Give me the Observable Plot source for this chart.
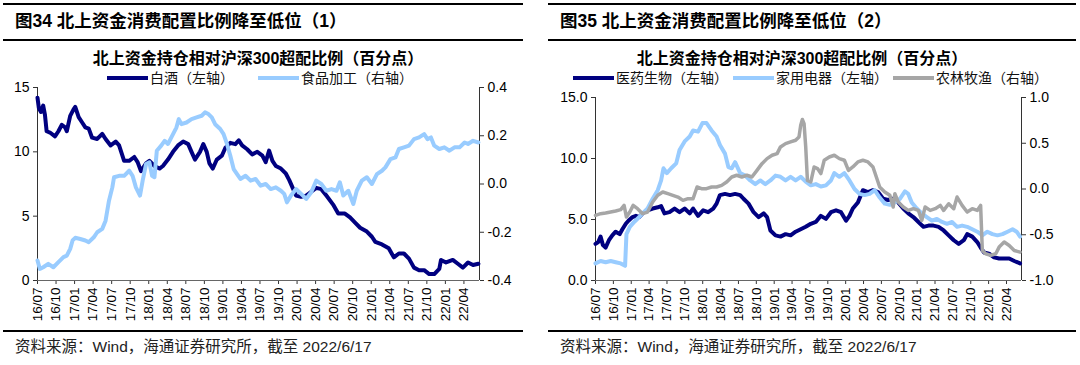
<!DOCTYPE html>
<html><head><meta charset="utf-8">
<script src="https://cdn.jsdelivr.net/npm/d3@7"></script>
<script src="https://cdn.jsdelivr.net/npm/@observablehq/plot@0.6"></script>
<style>
body{margin:0;background:#fff;}
#root{position:relative;width:1080px;height:365px;overflow:hidden;font-family:"Liberation Sans","Noto Sans CJK SC",sans-serif;color:#000;background:#fff;}
.rule{position:absolute;height:2px;background:#000;}
.title{position:absolute;font-weight:bold;font-size:17.5px;line-height:20px;white-space:nowrap;}
.ctitle{position:absolute;font-weight:bold;font-size:16px;line-height:18px;white-space:nowrap;transform:translateX(-50%);}
.lg{position:absolute;display:flex;align-items:center;font-size:14px;line-height:16px;white-space:nowrap;color:#111;}
.sw{display:inline-block;width:41px;height:4px;margin-right:2px;}
.footer{position:absolute;font-size:15.5px;line-height:17px;white-space:nowrap;color:#222;}
.chart{position:absolute;top:80px;}
.chart svg{overflow:visible;}
</style>
</head><body>
<div id="root"></div>
<script>
// ---------- data (decimal year, value) ----------
const xTickLabels = ["16/07","16/10","17/01","17/04","17/07","17/10","18/01","18/04","18/07","18/10","19/01","19/04","19/07","19/10","20/01","20/04","20/07","20/10","21/01","21/04","21/07","21/10","22/01","22/04"];

// 图34: 白酒 (left axis)
const baijiu = [[2016.500,14.2],[2016.518,13.4],[2016.545,13.1],[2016.577,13.6],[2016.600,12.9],[2016.623,11.6],[2016.668,11.5],[2016.736,11.2],[2016.782,11.6],[2016.827,12.1],[2016.873,11.9],[2016.895,11.6],[2016.941,12.8],[2016.986,13.3],[2017.009,13.5],[2017.055,12.7],[2017.100,12.3],[2017.145,11.9],[2017.191,11.8],[2017.236,11.1],[2017.305,11.0],[2017.373,11.4],[2017.418,11.0],[2017.486,10.5],[2017.555,10.8],[2017.600,10.5],[2017.668,9.3],[2017.736,9.3],[2017.805,9.6],[2017.850,9.2],[2017.895,8.5],[2017.964,9.1],[2018.009,9.3],[2018.077,8.9],[2018.145,8.7],[2018.191,8.9],[2018.259,9.4],[2018.327,10.0],[2018.395,10.5],[2018.464,10.8],[2018.532,10.6],[2018.577,10.0],[2018.623,9.4],[2018.691,10.0],[2018.736,10.6],[2018.782,10.0],[2018.818,9.1],[2018.864,8.7],[2018.918,9.4],[2018.986,9.7],[2019.032,10.3],[2019.100,10.7],[2019.168,10.6],[2019.214,10.9],[2019.259,10.5],[2019.327,10.2],[2019.395,9.8],[2019.464,10.0],[2019.532,9.7],[2019.577,9.2],[2019.623,10.1],[2019.668,9.3],[2019.714,8.9],[2019.782,8.7],[2019.850,8.3],[2019.895,7.8],[2019.941,7.2],[2019.986,6.6],[2020.055,6.5],[2020.123,6.6],[2020.191,6.9],[2020.259,7.2],[2020.327,7.1],[2020.395,6.6],[2020.486,5.9],[2020.555,5.2],[2020.645,5.2],[2020.714,4.9],[2020.782,4.5],[2020.850,4.1],[2020.941,3.8],[2021.009,3.4],[2021.055,3.0],[2021.145,2.8],[2021.236,2.5],[2021.305,1.8],[2021.373,2.1],[2021.441,2.1],[2021.509,1.7],[2021.577,1.0],[2021.645,0.8],[2021.714,0.8],[2021.782,0.5],[2021.850,0.5],[2021.918,0.9],[2021.941,1.6],[2022.009,1.4],[2022.100,1.6],[2022.168,1.3],[2022.236,1.0],[2022.305,1.4],[2022.373,1.2],[2022.445,1.3]];

// 图34: 食品加工 (right axis)
const shipin = [[2016.500,-0.317],[2016.532,-0.352],[2016.577,-0.345],[2016.645,-0.331],[2016.714,-0.345],[2016.782,-0.324],[2016.850,-0.303],[2016.895,-0.297],[2016.941,-0.269],[2016.973,-0.234],[2017.009,-0.223],[2017.077,-0.228],[2017.145,-0.234],[2017.191,-0.241],[2017.259,-0.221],[2017.305,-0.200],[2017.373,-0.186],[2017.418,-0.152],[2017.464,-0.069],[2017.509,-0.014],[2017.532,0.028],[2017.600,0.034],[2017.668,0.034],[2017.736,0.055],[2017.782,0.034],[2017.827,-0.014],[2017.882,-0.048],[2017.918,0.014],[2017.964,0.083],[2018.009,0.090],[2018.045,0.034],[2018.077,0.028],[2018.109,0.138],[2018.168,0.159],[2018.214,0.179],[2018.259,0.166],[2018.305,0.193],[2018.373,0.234],[2018.405,0.269],[2018.441,0.248],[2018.509,0.255],[2018.577,0.269],[2018.645,0.276],[2018.714,0.283],[2018.759,0.297],[2018.805,0.290],[2018.850,0.276],[2018.895,0.248],[2018.964,0.228],[2019.009,0.207],[2019.055,0.166],[2019.100,0.117],[2019.145,0.062],[2019.191,0.041],[2019.236,0.021],[2019.305,0.034],[2019.373,0.014],[2019.441,0.021],[2019.509,-0.007],[2019.577,0.000],[2019.645,-0.021],[2019.714,-0.014],[2019.782,-0.028],[2019.827,-0.041],[2019.864,-0.076],[2019.918,-0.048],[2019.986,-0.021],[2020.055,-0.041],[2020.123,-0.062],[2020.191,-0.034],[2020.259,0.014],[2020.327,0.000],[2020.395,-0.028],[2020.464,-0.021],[2020.532,-0.028],[2020.577,0.007],[2020.623,-0.048],[2020.691,-0.028],[2020.759,-0.083],[2020.805,-0.028],[2020.873,0.014],[2020.941,0.028],[2021.009,0.000],[2021.077,0.041],[2021.145,0.055],[2021.191,0.069],[2021.259,0.103],[2021.327,0.110],[2021.373,0.145],[2021.441,0.152],[2021.509,0.159],[2021.577,0.186],[2021.645,0.193],[2021.714,0.207],[2021.759,0.186],[2021.805,0.193],[2021.850,0.159],[2021.918,0.145],[2021.986,0.152],[2022.055,0.138],[2022.123,0.152],[2022.191,0.152],[2022.259,0.172],[2022.305,0.166],[2022.373,0.179],[2022.445,0.172]];

// 图35: 医药生物 (left axis)
const yiyao = [[2016.500,3.0],[2016.538,3.15],[2016.571,3.6],[2016.604,2.9],[2016.641,2.7],[2016.688,3.3],[2016.735,3.7],[2016.782,4.0],[2016.839,3.8],[2016.876,4.2],[2016.924,4.65],[2016.961,4.9],[2017.018,5.2],[2017.065,5.3],[2017.112,5.2],[2017.159,5.5],[2017.229,5.75],[2017.300,5.9],[2017.371,6.0],[2017.418,6.1],[2017.465,5.5],[2017.535,5.6],[2017.606,5.9],[2017.676,5.6],[2017.747,5.9],[2017.818,5.5],[2017.865,5.9],[2017.935,5.3],[2018.006,5.75],[2018.076,5.6],[2018.147,5.9],[2018.194,6.3],[2018.241,7.0],[2018.312,7.1],[2018.382,7.0],[2018.453,7.1],[2018.524,7.0],[2018.571,6.7],[2018.641,6.3],[2018.712,5.6],[2018.782,5.2],[2018.853,5.5],[2018.900,5.2],[2018.947,4.1],[2019.018,3.7],[2019.088,3.6],[2019.159,3.8],[2019.229,3.7],[2019.300,4.0],[2019.371,4.2],[2019.441,4.4],[2019.512,4.65],[2019.582,4.8],[2019.653,5.3],[2019.724,5.05],[2019.794,5.6],[2019.865,5.75],[2019.935,5.6],[2020.006,4.9],[2020.053,5.3],[2020.100,5.9],[2020.171,6.4],[2020.241,7.4],[2020.312,7.25],[2020.382,7.4],[2020.453,7.25],[2020.524,6.7],[2020.594,6.6],[2020.665,6.7],[2020.735,6.4],[2020.806,5.9],[2020.876,5.5],[2020.947,5.2],[2021.018,4.8],[2021.088,4.4],[2021.159,4.5],[2021.229,4.5],[2021.300,4.4],[2021.371,4.1],[2021.441,3.7],[2021.512,3.3],[2021.582,3.0],[2021.653,3.3],[2021.700,3.8],[2021.771,3.6],[2021.841,3.15],[2021.888,2.7],[2021.935,2.3],[2022.006,2.2],[2022.076,1.9],[2022.147,1.8],[2022.218,1.8],[2022.288,1.8],[2022.359,1.6],[2022.440,1.4]];

// 图35: 家用电器 (left axis)
const jiadian = [[2016.500,1.4],[2016.571,1.6],[2016.641,1.5],[2016.712,1.6],[2016.782,1.5],[2016.853,1.4],[2016.914,1.2],[2016.933,3.8],[2016.980,4.4],[2017.041,4.8],[2017.112,5.2],[2017.159,5.5],[2017.229,5.9],[2017.300,6.7],[2017.371,7.4],[2017.418,8.2],[2017.451,9.2],[2017.498,8.8],[2017.559,9.2],[2017.629,9.6],[2017.676,10.7],[2017.747,11.4],[2017.818,11.8],[2017.865,12.3],[2017.935,12.2],[2017.996,12.9],[2018.053,12.9],[2018.124,12.3],[2018.194,11.8],[2018.241,11.1],[2018.312,10.4],[2018.359,9.3],[2018.406,9.2],[2018.453,9.7],[2018.524,8.8],[2018.594,8.6],[2018.665,8.2],[2018.735,7.9],[2018.806,8.2],[2018.876,7.9],[2018.947,8.2],[2019.018,8.6],[2019.088,8.5],[2019.159,8.2],[2019.229,8.5],[2019.300,8.2],[2019.371,8.5],[2019.441,8.1],[2019.512,7.8],[2019.582,7.9],[2019.653,7.7],[2019.724,7.8],[2019.794,8.2],[2019.841,8.8],[2019.912,8.5],[2019.982,8.8],[2020.053,8.2],[2020.124,7.5],[2020.194,7.1],[2020.265,7.0],[2020.335,7.1],[2020.406,7.4],[2020.476,6.8],[2020.547,6.3],[2020.618,6.2],[2020.688,6.4],[2020.759,6.7],[2020.829,7.3],[2020.876,7.1],[2020.924,6.4],[2020.994,5.9],[2021.065,5.5],[2021.135,5.2],[2021.206,4.9],[2021.276,5.05],[2021.347,4.8],[2021.418,4.65],[2021.488,4.8],[2021.559,4.4],[2021.629,4.5],[2021.700,4.4],[2021.771,4.2],[2021.841,4.0],[2021.912,3.7],[2021.982,4.0],[2022.053,3.8],[2022.124,3.7],[2022.194,3.8],[2022.265,4.0],[2022.335,4.2],[2022.392,4.0],[2022.440,3.6]];

// 图35: 农林牧渔 (right axis)
const nonglin = [[2016.500,-0.288],[2016.571,-0.270],[2016.641,-0.263],[2016.712,-0.252],[2016.782,-0.241],[2016.853,-0.226],[2016.900,-0.179],[2016.933,-0.307],[2016.980,-0.252],[2017.027,-0.179],[2017.088,-0.215],[2017.159,-0.270],[2017.229,-0.252],[2017.300,-0.142],[2017.371,-0.069],[2017.441,-0.033],[2017.512,-0.051],[2017.582,-0.069],[2017.653,-0.088],[2017.724,-0.124],[2017.794,-0.106],[2017.865,-0.106],[2017.921,0.022],[2017.982,0.004],[2018.053,0.004],[2018.124,0.022],[2018.194,0.022],[2018.265,0.040],[2018.335,0.077],[2018.406,0.131],[2018.476,0.150],[2018.547,0.131],[2018.618,0.150],[2018.688,0.131],[2018.759,0.204],[2018.829,0.277],[2018.900,0.332],[2018.971,0.369],[2019.041,0.387],[2019.088,0.460],[2019.159,0.496],[2019.229,0.515],[2019.300,0.533],[2019.347,0.569],[2019.371,0.697],[2019.394,0.759],[2019.418,0.715],[2019.441,0.460],[2019.465,0.095],[2019.512,0.077],[2019.559,0.241],[2019.606,0.223],[2019.653,0.168],[2019.700,0.314],[2019.771,0.350],[2019.841,0.369],[2019.912,0.332],[2019.982,0.314],[2020.039,0.204],[2020.100,0.241],[2020.171,0.296],[2020.241,0.314],[2020.312,0.296],[2020.382,0.241],[2020.429,0.131],[2020.476,0.022],[2020.547,-0.033],[2020.618,-0.069],[2020.665,-0.197],[2020.688,-0.051],[2020.735,-0.142],[2020.806,-0.197],[2020.876,-0.234],[2020.947,-0.215],[2021.018,-0.234],[2021.065,-0.343],[2021.112,-0.197],[2021.182,-0.234],[2021.253,-0.215],[2021.324,-0.179],[2021.371,-0.234],[2021.441,-0.161],[2021.512,-0.215],[2021.559,-0.088],[2021.629,-0.179],[2021.700,-0.252],[2021.771,-0.215],[2021.841,-0.234],[2021.888,-0.179],[2021.912,-0.672],[2021.959,-0.708],[2022.029,-0.726],[2022.100,-0.708],[2022.147,-0.635],[2022.218,-0.580],[2022.288,-0.617],[2022.359,-0.672],[2022.440,-0.690]];

const leftTicks34 = [0,5,10,15];
const rightTicks34 = [-0.4,-0.2,0,0.2,0.4];
const leftTicks35 = [0,5,10,15];
const rightTicks35 = [-1,-0.5,0,0.5,1];

// ---------- helpers ----------
const toObj = arr => arr.map(([t,v]) => ({t, v}));
const parseTick = s => 2000 + (+s.slice(0,2)) + ((+s.slice(3)) - 1) / 12;
const xTicks = xTickLabels.map(parseTick);
const X_DOMAIN = [2016.5, 2022.46];
const FONT = '"Liberation Sans","Noto Sans CJK SC",sans-serif';

function makeChart({width, marginLeft, marginRight, marginTop, height, leftTicks, leftFmt, rightTicks, rightFmt, rightDomain, left, right}) {
  const L = [0, 15];
  const [r0, r1] = rightDomain;
  const toL = v => L[0] + (v - r0) / (r1 - r0) * (L[1] - L[0]);
  const fromL = y => r0 + (y - L[0]) / (L[1] - L[0]) * (r1 - r0);
  const marks = [
    Plot.axisY({ticks: leftTicks, tickFormat: leftFmt, tickSize: 4, tickPadding: 4, label: null, fontSize: 14, stroke: "#333"}),
    Plot.axisY({anchor: "right", ticks: rightTicks.map(toL), tickFormat: y => rightFmt(Math.round(fromL(y) * 100) / 100), tickSize: 4, tickPadding: 4, label: null, fontSize: 14, stroke: "#333"}),
    Plot.axisX({ticks: xTicks, tickFormat: d => xTickLabels[xTicks.indexOf(d)], tickRotate: -90, tickSize: 4, tickPadding: 3, label: null, fontSize: 13.5, stroke: "#333"}),
    Plot.ruleX([X_DOMAIN[0]], {stroke: "#333", strokeWidth: 1}),
    Plot.ruleX([X_DOMAIN[1]], {stroke: "#333", strokeWidth: 1}),
    Plot.ruleY([0], {stroke: "#666", strokeWidth: 1}),
  ];
  for (const s of left) marks.push(Plot.line(toObj(s.data), {x: "t", y: "v", stroke: s.color, strokeWidth: s.w, strokeLinejoin: "round"}));
  for (const s of right) marks.push(Plot.line(toObj(s.data), {x: "t", y: d => toL(d.v), stroke: s.color, strokeWidth: s.w, strokeLinejoin: "round"}));
  return Plot.plot({
    width, height, marginLeft, marginRight, marginTop, marginBottom: 50,
    x: {type: "linear", domain: X_DOMAIN},
    y: {domain: L},
    style: {fontFamily: FONT, color: "#000", background: "transparent", overflow: "visible"},
    marks
  });
}

const fmtInt = d => String(d);
const fmt1 = d => (Math.round(d * 10) / 10).toFixed(1);

// ---------- layout ----------
const root = document.getElementById("root");
function el(cls, style, html) {
  const d = document.createElement("div");
  d.className = cls;
  Object.assign(d.style, style);
  if (html != null) d.innerHTML = html;
  root.appendChild(d);
  return d;
}
function legendItem(left, top, color, text) {
  el("lg", {left: left + "px", top: top + "px"}, `<span class="sw" style="background:${color}"></span><span>${text}</span>`);
}

const NAVY = "#000080", LIGHT = "#99CCFF", GRAY = "#A6A6A6";

// Panel 1
el("rule", {left: "3px", top: "3px", width: "520px"});
el("title", {left: "15px", top: "11px"}, "图34 北上资金消费配置比例降至低位（1）");
el("rule", {left: "3px", top: "39px", width: "520px"});
el("ctitle", {left: "258px", top: "50px"}, "北上资金持仓相对沪深300超配比例（百分点）");
legendItem(107, 70, NAVY, "白酒（左轴）");
legendItem(258, 70, LIGHT, "食品加工（右轴）");
const c1 = el("chart", {left: "0px"});
c1.appendChild(makeChart({
  width: 540, height: 250, marginLeft: 37, marginRight: 61, marginTop: 7,
  leftTicks: leftTicks34, leftFmt: fmtInt, rightTicks: rightTicks34, rightFmt: fmt1, rightDomain: [-0.4, 0.4],
  left: [{data: baijiu, color: NAVY, w: 4}],
  right: [{data: shipin, color: LIGHT, w: 4}]
}));
el("rule", {left: "3px", top: "330px", width: "520px"});
el("footer", {left: "15px", top: "338px"}, "资料来源：Wind，海通证券研究所，截至 2022/6/17");

// Panel 2
el("rule", {left: "548px", top: "3px", width: "528px"});
el("title", {left: "560px", top: "11px"}, "图35 北上资金消费配置比例降至低位（2）");
el("rule", {left: "548px", top: "39px", width: "528px"});
el("ctitle", {left: "802px", top: "50px"}, "北上资金持仓相对沪深300超配比例（百分点）");
legendItem(573, 70, NAVY, "医药生物（左轴）");
legendItem(733, 70, LIGHT, "家用电器（左轴）");
legendItem(893, 70, GRAY, "农林牧渔（右轴）");
const c2 = el("chart", {left: "540px"});
c2.appendChild(makeChart({
  width: 540, height: 250, marginLeft: 55, marginRight: 59, marginTop: 17,
  leftTicks: leftTicks35, leftFmt: fmt1, rightTicks: rightTicks35, rightFmt: fmt1, rightDomain: [-1, 1],
  left: [{data: yiyao, color: NAVY, w: 4}, {data: jiadian, color: LIGHT, w: 4}],
  right: [{data: nonglin, color: GRAY, w: 3.5}]
}));
el("rule", {left: "548px", top: "330px", width: "528px"});
el("footer", {left: "560px", top: "338px"}, "资料来源：Wind，海通证券研究所，截至 2022/6/17");
</script>
</body></html>
